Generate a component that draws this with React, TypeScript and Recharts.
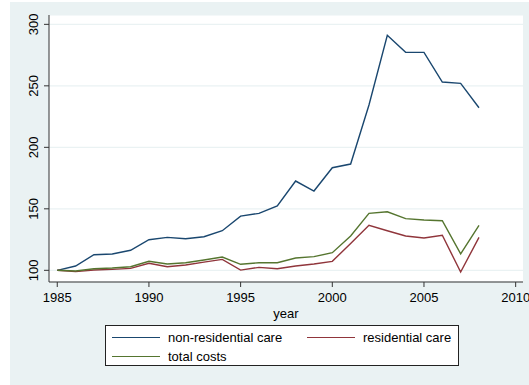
import { LineChart, Line, XAxis, YAxis, CartesianGrid } from 'recharts'

// cost index, 1985 = 100
const years = [
  1985, 1986, 1987, 1988, 1989, 1990, 1991, 1992, 1993, 1994, 1995, 1996,
  1997, 1998, 1999, 2000, 2001, 2002, 2003, 2004, 2005, 2006, 2007, 2008,
]
const nonResidential = [
  100, 103.5, 112.7, 113.3, 116.3, 124.9, 126.8, 125.7, 127.3, 132.2, 144.1, 146.3,
  152.3, 172.6, 164.5, 183.4, 186.4, 234.4, 291.1, 277.2, 277.2, 253.1, 252.0, 232.2,
]
const residential = [
  100, 98.9, 100.2, 100.8, 101.6, 105.7, 102.9, 104.3, 106.7, 108.9, 100.2, 102.4,
  101.3, 103.5, 105.1, 107.3, 121.9, 136.6, 132.2, 127.9, 126.3, 128.5, 98.6, 126.8,
]
const totalCosts = [
  100, 99.4, 101.3, 101.9, 102.9, 107.3, 105.1, 106.2, 108.4, 110.8, 104.9, 106.2,
  106.2, 110.0, 111.1, 114.3, 127.9, 146.3, 147.6, 142.0, 140.9, 140.3, 113.3, 136.6,
]
const xTicks = [1985, 1990, 1995, 2000, 2005, 2010]
const yTicks = [100, 150, 200, 250, 300]

const series = [
  { key: 'nonres', name: 'non-residential care' },
  { key: 'res', name: 'residential care' },
  { key: 'total', name: 'total costs' },
]
const colors: Record<string, string> = {
  nonres: '#1a476f',
  res: '#90353b',
  total: '#55752f',
}

const data = years.map((year, i) => ({
  year,
  nonres: nonResidential[i],
  res: residential[i],
  total: totalCosts[i],
}))

const FONT = 'Arial, "Liberation Sans", Helvetica, sans-serif'
const BG = '#eaf2f3'
const AXIS = '#333333'

const YTick = (props: any) => {
  const { x, y, payload } = props
  return (
    <text
      x={x}
      y={y}
      transform={`rotate(-90 ${x} ${y})`}
      textAnchor="middle"
      fontSize={13}
      fontFamily={FONT}
      fill="#000"
    >
      {payload.value}
    </text>
  )
}

const LegendKey = ({ k, name }: { k: string; name: string }) => (
  <div style={{ display: 'flex', alignItems: 'center', height: 19 }}>
    <div style={{ width: 48, height: 0, borderTop: `1.5px solid ${colors[k]}`, marginLeft: 6, marginRight: 8 }} />
    <span>{name}</span>
  </div>
)

export default function App() {
  return (
    <div style={{ position: 'absolute', left: 0, top: 0, width: 529, height: 385, background: '#fff' }}>
      <div style={{ position: 'absolute', left: 10, top: 2, width: 519, height: 383, background: BG }} />
      <div style={{ position: 'absolute', left: 0, top: 0 }}>
        <LineChart
          width={529}
          height={385}
          data={data}
          margin={{ top: 15, right: 6, left: 10, bottom: 63 }}
        >
          <CartesianGrid vertical={false} stroke={BG} strokeWidth={1.2} fill="#fff" fillOpacity={1} />
          <XAxis
            dataKey="year"
            type="number"
            domain={[1984.55, 2010.4]}
            allowDataOverflow
            ticks={xTicks}
            height={40}
            tickSize={5}
            tickMargin={6}
            stroke={AXIS}
            tick={{ fontSize: 13, fontFamily: FONT, fill: '#000' }}
            label={{ value: 'year', position: 'insideBottom', offset: 4, fontSize: 13, fontFamily: FONT, fill: '#000' }}
          />
          <YAxis
            type="number"
            domain={[90.5, 307.6]}
            allowDataOverflow
            ticks={yTicks}
            width={39}
            tickSize={5}
            tickMargin={6}
            stroke={AXIS}
            tick={<YTick />}
          />
          {series.map(s => (
            <Line
              key={s.key}
              dataKey={s.key}
              name={s.name}
              type="linear"
              stroke={colors[s.key]}
              strokeWidth={1.4}
              dot={false}
              activeDot={false}
              isAnimationActive={false}
            />
          ))}
        </LineChart>
      </div>
      <div
        style={{
          position: 'absolute',
          left: 105,
          top: 325,
          width: 354,
          height: 41,
          boxSizing: 'border-box',
          border: '1px solid #222',
          background: '#fff',
          fontFamily: FONT,
          fontSize: 13,
          color: '#000',
          display: 'grid',
          gridTemplateColumns: '195px 1fr',
          paddingTop: 2,
        }}
      >
        {series.map(s => (
          <LegendKey key={s.key} k={s.key} name={s.name} />
        ))}
      </div>
    </div>
  )
}
